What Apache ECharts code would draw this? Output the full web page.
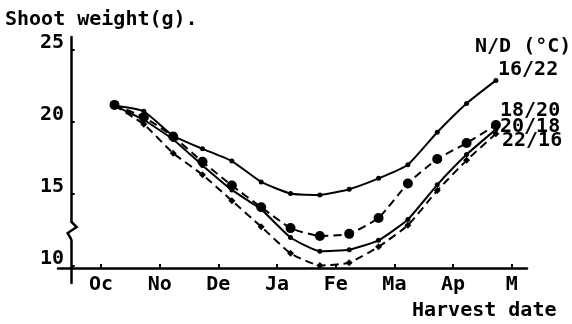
<!DOCTYPE html>
<html><head><meta charset="utf-8">
<script src="https://cdn.jsdelivr.net/npm/echarts@6/dist/echarts.min.js"></script>
<style>html,body{margin:0;padding:0;background:#fff}#c{width:572px;height:324px}</style>
</head><body><div id="c"></div>
<script>
// x unit = months, 0 at the y axis (mid-September); month ticks at .5
const months = ['Oc','No','De','Ja','Fe','Ma','Ap','M'];
const monthTicks = [0.5,1.5,2.5,3.5,4.5,5.5,6.5,7.5];
const harvestX = [0.73,1.23,1.73,2.23,2.73,3.23,3.73,4.23,4.73,5.23,5.73,6.23,6.73,7.23];
const yTicks = [10,15,20,25];
const seriesNames = ['16/22','18/20','20/18','22/16'];
const nd16_22 = [21.1,20.7,19.0,18.1,17.25,15.8,15.0,14.9,15.3,16.05,17.0,19.25,21.25,22.85];
const nd18_20 = [21.15,20.3,18.95,17.2,15.55,14.05,12.6,12.05,12.2,13.3,15.7,17.4,18.5,19.75];
const nd20_18 = [21.1,20.1,18.75,16.95,15.25,13.9,11.95,11.0,11.1,11.75,13.2,15.6,17.7,19.45];
const nd22_16 = [21.1,19.8,17.8,16.3,14.5,12.7,10.85,10.0,10.2,11.3,12.8,15.2,17.3,19.15];

const FONT = 'DejaVu Sans Mono';
const txt = {fontFamily: FONT, fontWeight: 'bold', fontSize: 20, color: '#000'};
const pts = v => harvestX.map((x, i) => [x, v[i]]);

const chart = echarts.init(document.getElementById('c'), null, {renderer: 'canvas'});
function mkSeries(name, vals, dashed, symbol, size) {
  return {
    name, type: 'line', data: pts(vals), smooth: 0.15,
    symbol, symbolSize: size, showSymbol: true,
    lineStyle: {color: '#000', width: 2, type: dashed ? [8, 5] : 'solid'},
    itemStyle: {color: '#000', borderWidth: 0},
    emphasis: {disabled: true}, animation: false
  };
}
const option = {
  animation: false,
  grid: {left: 58, right: 45, top: 37, bottom: 41, containLabel: false},
  xAxis: {
    type: 'value', min: -0.233, max: 7.76, offset: -15,
    axisLine: {onZero: false, lineStyle: {color: '#000', width: 2.5}},
    axisTick: {inside: true, length: 4, customValues: monthTicks, lineStyle: {color: '#000', width: 2}},
    axisLabel: Object.assign({}, txt, {customValues: monthTicks, margin: 7,
      formatter: v => months[Math.round(v - 0.5)]}),
    splitLine: {show: false}
  },
  yAxis: {
    type: 'value', min: 8.79, max: 25.86,
    axisLine: {show: true, onZero: true, lineStyle: {color: '#000', width: 2.5}},
    axisTick: {show: true, inside: true, length: 3, customValues: yTicks, lineStyle: {color: '#000', width: 2}},
    axisLabel: Object.assign({}, txt, {customValues: yTicks, margin: -6, verticalAlign: 'bottom', lineHeight: 14}),
    splitLine: {show: false}
  },
  series: [
    mkSeries(seriesNames[0], nd16_22, false, 'circle', 5),
    mkSeries(seriesNames[1], nd18_20, true, 'circle', 10),
    mkSeries(seriesNames[2], nd20_18, false, 'circle', 5),
    mkSeries(seriesNames[3], nd22_16, true, 'diamond', 7)
  ]
};
chart.setOption(option);

const tstyle = (text, x, y, align) => ({type: 'text', x, y, z: 100,
  style: {text, fontFamily: FONT, fontWeight: 'bold', fontSize: 20, fill: '#000', align: align || 'left', verticalAlign: 'middle'}});
const p0 = chart.convertToPixel({gridIndex: 0}, [0, 12.95]);
const ax = p0[0], ay = p0[1];
chart.setOption({graphic: [
  tstyle('Shoot weight(g).', 5, 20),
  tstyle('N/D (°C)', 475, 47),
  tstyle(seriesNames[0], 498, 70),
  tstyle(seriesNames[1], 500, 111),
  tstyle(seriesNames[2], 500, 127),
  tstyle(seriesNames[3], 502, 141),
  tstyle('Harvest date', 412, 311),
  {type: 'rect', z: 100, shape: {x: ax - 3, y: ay - 1, width: 6, height: 18}, style: {fill: '#fff'}},
  {type: 'polyline', z: 101, shape: {points: [[ax - 1, ay - 2], [ax + 5, ay + 4], [ax - 4, ay + 10], [ax, ay + 17]]},
    style: {stroke: '#000', lineWidth: 2.5, fill: null}}
]});
</script></body></html>
